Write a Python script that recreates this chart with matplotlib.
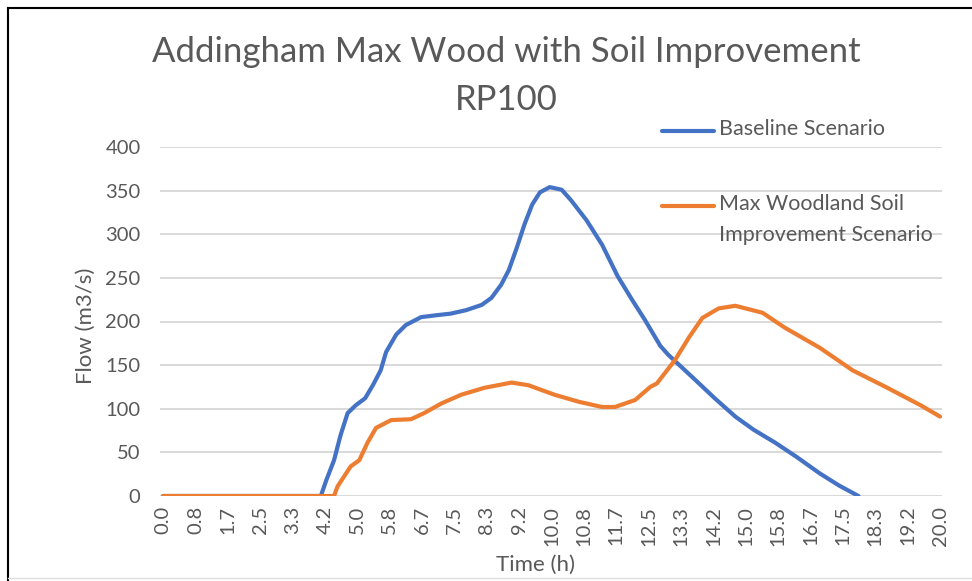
import numpy as np
import matplotlib.pyplot as plt
from matplotlib.lines import Line2D

plt.rcParams['font.family'] = ['Lato', 'DejaVu Sans']

baseline_t = [0.0, 4.06, 4.2, 4.4, 4.57, 4.75, 4.96, 5.2, 5.4, 5.6, 5.74, 6.0,
              6.25, 6.64, 7.0, 7.4, 7.8, 8.2, 8.45, 8.7, 8.9, 9.1, 9.3, 9.5,
              9.7, 9.95, 10.26, 10.5, 10.9, 11.3, 11.7, 12.07, 12.4, 12.8,
              13.0, 13.7, 14.2, 14.73, 15.2, 15.76, 16.3, 16.9, 17.4, 17.9]
baseline_q = [0, 0, 18, 41, 70, 95, 104, 112, 127, 144, 165, 185,
              196, 205, 207, 209, 213, 219, 227, 242, 259, 284, 311, 334,
              348, 354, 351, 339, 316, 288, 252, 225, 202, 172,
              162, 133, 112, 91, 76, 61, 45, 26, 12, 0]

woodland_t = [0.0, 4.4, 4.49, 4.83, 5.05, 5.26, 5.48, 5.87, 6.38, 6.72, 7.16,
              7.67, 8.27, 8.97, 9.4, 10.08, 10.7, 11.3, 11.63, 12.15, 12.54,
              12.71, 13.18, 13.54, 13.88, 14.3, 14.73, 15.43, 16.0, 16.9,
              17.75, 18.6, 19.5, 20.0]
woodland_q = [0, 0, 11, 34, 41, 61, 78, 87, 88, 95, 106,
              116, 124, 130, 127, 116, 108, 102, 102, 110, 125,
              129, 156, 182, 204, 215, 218, 210, 193, 170,
              144, 125, 104, 91]

tick_hours = np.arange(25) * 20.0 / 24
tick_labels = ["%.1f" % h for h in tick_hours]

labels = ["Baseline Scenario", "Max Woodland Soil\nImprovement Scenario"]
blue = "#4472C4"
orange = "#ED7D31"
grey = "#595959"

fig = plt.figure(figsize=(9.72, 5.81), dpi=100)
ax = fig.add_axes([160/972, 1-496/581, 782/972, 349/581])

ax.plot(baseline_t, baseline_q, color=blue, lw=3.0, solid_capstyle='round',
        solid_joinstyle='round')
ax.plot(woodland_t, woodland_q, color=orange, lw=3.0, solid_capstyle='round',
        solid_joinstyle='round')

ax.set_xlim(-0.08, 20.05)
ax.set_ylim(0, 400)
ax.set_yticks(np.arange(0, 401, 50))
ax.set_xticks(tick_hours)
ax.set_xticklabels(tick_labels, rotation=90)
ax.tick_params(axis='both', length=0, colors=grey, labelsize=14.5)
ax.tick_params(axis='y', pad=14)
ax.tick_params(axis='x', pad=7)
ax.grid(axis='y', color='#d9d9d9', lw=1.4)
ax.set_axisbelow(True)
for s in ax.spines.values():
    s.set_visible(False)

fig.text(86/972, 1-326/581, "Flow (m3/s)", rotation=90, ha='center', va='center',
         color=grey, fontsize=16)
fig.text(535/972, 1-565/581, "Time (h)", ha='center', va='center',
         color=grey, fontsize=16)
fig.text(506/972, 1-52/581, "Addingham Max Wood with Soil Improvement",
         ha='center', va='center', color=grey, fontsize=25)
fig.text(506/972, 1-100/581, "RP100", ha='center', va='center',
         color=grey, fontsize=25)

# legend, Excel style: key aligned with first text line
for lab, col, y in [(labels[0], blue, 131), (labels[1], orange, 206)]:
    fig.add_artist(Line2D([662/972, 714/972], [1-y/581, 1-y/581], color=col,
                          lw=3.0, solid_capstyle='round'))
    fig.text(719/972, 1-(y-12)/581, lab, ha='left', va='top', color=grey,
             fontsize=15.5, linespacing=1.7)

# frame of the screenshot
fig.add_artist(Line2D([8/972, 8/972], [0, 1-8/581], color='black', lw=1.5))
fig.add_artist(Line2D([8/972, 1], [1-8/581, 1-8/581], color='black', lw=1.5))
fig.add_artist(Line2D([8/972, 1], [1-578/581, 1-578/581], color='#e0e0e0', lw=1))

fig.savefig("out.png", dpi=100)
